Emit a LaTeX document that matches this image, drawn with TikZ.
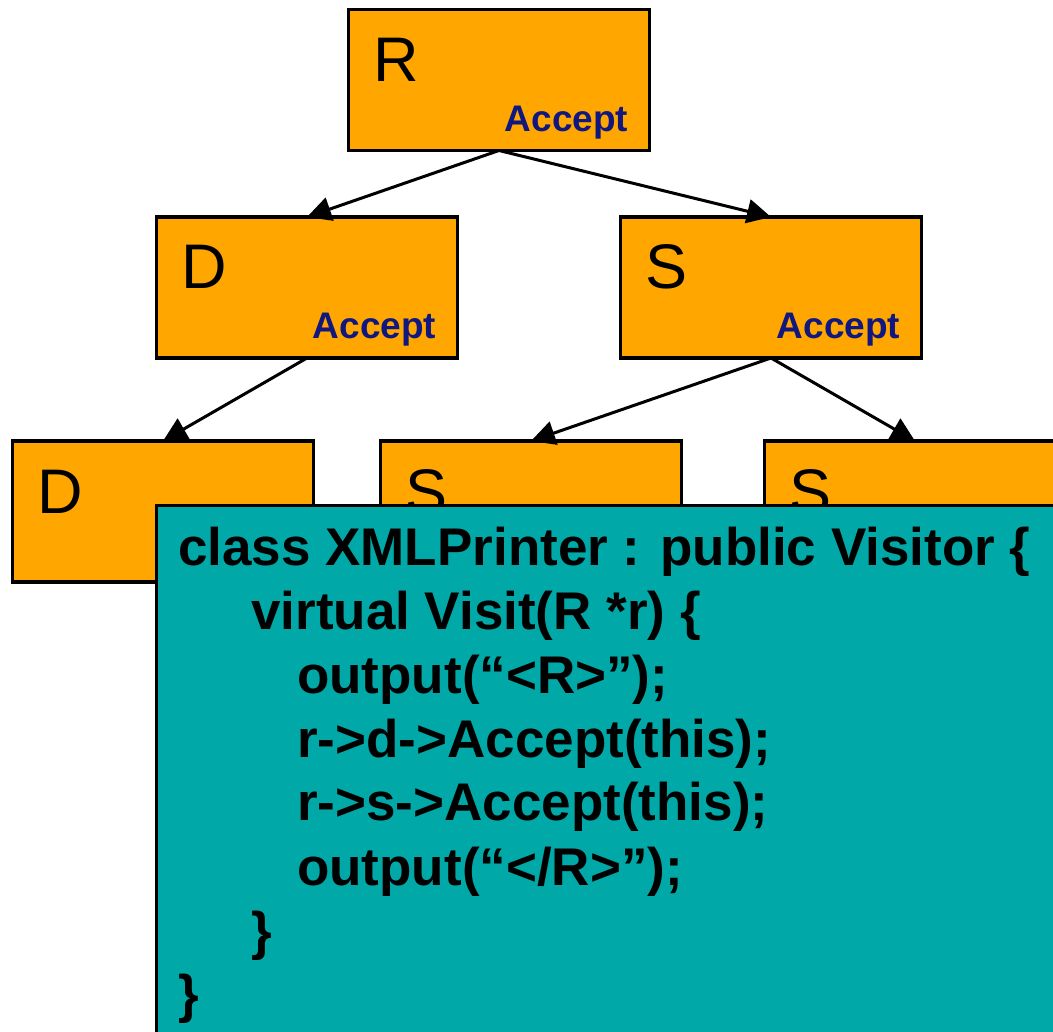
\documentclass[tikz,border=0pt]{standalone}
\usepackage{fontspec}
\setmainfont{Liberation Sans}
\usetikzlibrary{arrows.meta,calc}

\definecolor{boxorange}{RGB}{255,166,0}
\definecolor{codeteal}{RGB}{0,168,168}
\definecolor{accblue}{RGB}{16,24,128}

\tikzset{
   elem/.style={draw, line width=3.2pt, fill=boxorange, minimum width=301pt, minimum height=141pt, inner sep=0pt, outer sep=0pt},
   letter/.style={anchor=base west, inner sep=0pt, font=\fontsize{63}{75}\selectfont},
   acc/.style={anchor=base east, inner sep=0pt, text=accblue, font=\fontsize{37}{44}\selectfont\bfseries},
   link/.style={line width=3pt, -{Triangle[length=24pt,width=24pt]}},
   panel/.style={draw, line width=3.2pt, fill=codeteal, anchor=north west, minimum width=920pt, minimum height=545pt, inner sep=0pt, outer sep=0pt},
   code/.style={anchor=base west, inner sep=0pt, font=\fontsize{53}{64}\selectfont\bfseries}
}

\begin{document}
\begin{tikzpicture}[x=1pt,y=-1pt]
   \useasboundingbox (0,0) rectangle (1053,1032);
   \clip (0,0) rectangle (1053,1032);

   \foreach \n/\t/\x/\y in {R/R/499/80, D/D/307/287.5, S/S/771/287.5}
   {
      \node[elem] (\n) at (\x,\y) {};
      \node[letter] (\n-name) at ($(\n.north west)+(25,72)$) {\t};
      \node[acc] (\n-acc) at ($(\n.south east)+(-21,-19)$) {Accept};
   }
   \foreach \n/\t/\x/\y in {DD/D/163/511.5, SA/S/531/511.5, SB/S/915/511.5}
   {
      \node[elem] (\n) at (\x,\y) {};
      \node[letter] (\n-name) at ($(\n.north west)+(25,72)$) {\t};
   }

   \draw[link] (R.south) -- (D.north);
   \draw[link] (R.south) -- (S.north);
   \draw[link] (D.south) -- (DD.north);
   \draw[link] (S.south) -- (SA.north);
   \draw[link] (S.south) -- (SB.north);

   \node[panel] (printer) at (156.5,505.5) {};

   \node[code] (c1) at (178,565) {class XMLPrinter : public Visitor \{};
   \node[code] (c2) at (251,629) {virtual Visit(R *r) \{};
   \node[code] (c3) at (297,693) {output(“<R>”);};
   \node[code] (c4) at (297,757) {r->d->Accept(this);};
   \node[code] (c5) at (297,820) {r->s->Accept(this);};
   \node[code] (c6) at (297,885) {output(“</R>”);};
   \node[code] (c7) at (251,949) {\}};
   \node[code] (c8) at (178,1012) {\}};

\end{tikzpicture}
\end{document}
